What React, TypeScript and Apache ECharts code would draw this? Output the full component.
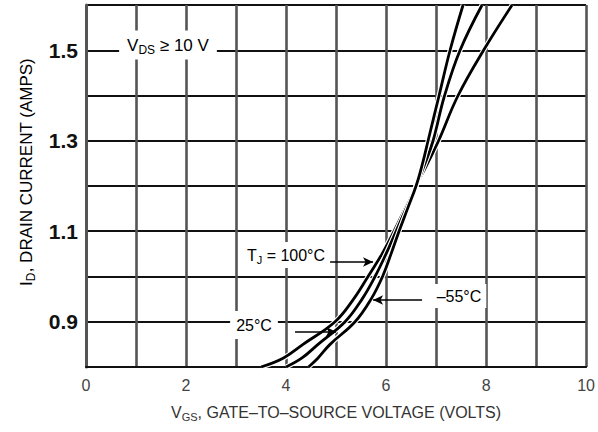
import React, { useEffect, useRef } from "react";
import * as echarts from "echarts";

// Drain current levels (AMPS) shared by the three curves
const idLevels = [0.8, 0.82, 0.85, 0.9, 0.95, 1.0, 1.05, 1.1, 1.15, 1.2, 1.25, 1.3, 1.4, 1.5, 1.6];
// Gate-to-source voltage (VOLTS) for each junction temperature at those levels
const vgs100C = [3.5, 3.95, 4.34, 4.98, 5.35, 5.64, 5.92, 6.16, 6.38, 6.6, 6.83, 7.05, 7.44, 7.95, 8.52];
const vgs25C = [4.0, 4.32, 4.64, 5.18, 5.52, 5.78, 6.0, 6.2, 6.4, 6.6, 6.78, 6.94, 7.17, 7.48, 7.92];
const vgsM55C = [4.45, 4.64, 4.88, 5.38, 5.7, 5.93, 6.1, 6.26, 6.43, 6.6, 6.73, 6.84, 7.06, 7.28, 7.54];

const xTickLabels = [0, 2, 4, 6, 8, 10];
const yTickLabels = [0.9, 1.1, 1.3, 1.5];

// Arrow annotations (data coordinates): [fromX, fromY, toX, toY]
const arrow100 = [4.84, 1.032, 5.74, 1.032];
const arrow25 = [4.18, 0.878, 5.0, 0.878];
const arrowM55 = [6.72, 0.948, 5.74, 0.948];

const FONT = "'Liberation Sans', Arial, sans-serif";

const richMain = (size: number, color: string) => ({
  b: { fontSize: size, fontFamily: FONT, color, lineHeight: size + 4, verticalAlign: "middle" },
  s: { fontSize: Math.round(size * 0.7), fontFamily: FONT, color, lineHeight: Math.round(size * 0.7), verticalAlign: "bottom" },
});

export default function App() {
  const ref = useRef<HTMLDivElement>(null);

  useEffect(() => {
    if (!ref.current) return;
    const chart = echarts.init(ref.current, undefined, { renderer: "svg" });

    const curves = [vgs100C, vgs25C, vgsM55C];
    const series: any[] = [];
    curves.forEach((xs) => {
      const data = idLevels.map((y, i) => [xs[i], y]);
      series.push({
        type: "line",
        data,
        showSymbol: false,
        smooth: 0.4,
        silent: true,
        lineStyle: { color: "#ffffff", width: 5 },
      });
      series.push({
        type: "line",
        data,
        showSymbol: false,
        smooth: 0.4,
        silent: true,
        lineStyle: { color: "#000000", width: 2.8 },
      });
    });
    const arrows = [arrow100, arrow25, arrowM55];
    series.push({
      type: "line",
      data: [],
      silent: true,
      markLine: {
        silent: true,
        symbol: ["none", "arrow"],
        symbolSize: [7, 10],
        label: { show: false },
        lineStyle: { color: "#000", width: 1.6, type: "solid" },
        data: arrows.map((a) => [{ coord: [a[0], a[1]] }, { coord: [a[2], a[3]] }]),
      },
    });

    chart.setOption({
      animation: false,
      backgroundColor: "#ffffff",
      grid: { left: 86, top: 5, right: 11, bottom: 65, containLabel: false },
      xAxis: {
        type: "value",
        min: 0,
        max: 10,
        interval: 1,
        name: "{b|V}{s|GS}{b|, GATE–TO–SOURCE VOLTAGE (VOLTS)}",
        nameLocation: "middle",
        nameGap: 35,
        nameTextStyle: { rich: richMain(16, "#333") },
        axisLine: { show: true, lineStyle: { color: "#111", width: 2 } },
        axisTick: { show: false },
        axisLabel: {
          fontFamily: FONT,
          fontSize: 16,
          color: "#444",
          margin: 10,
          formatter: (v: number) => (xTickLabels.some((t) => Math.abs(t - v) < 1e-6) ? String(v) : ""),
        },
        splitLine: { show: true, lineStyle: { color: "#555", width: 2.6 } },
      },
      yAxis: {
        type: "value",
        min: 0.8,
        max: 1.6,
        interval: 0.1,
        axisLine: { show: true, lineStyle: { color: "#555", width: 3 } },
        axisTick: { show: false },
        axisLabel: {
          fontFamily: FONT,
          fontSize: 21,
          fontWeight: "bold",
          color: "#111",
          margin: 8,
          formatter: (v: number) =>
            yTickLabels.some((t) => Math.abs(t - v) < 1e-6) ? v.toFixed(1) : "",
        },
        splitLine: { show: true, lineStyle: { color: "#111", width: 2 } },
      },
      series,
      graphic: [
        {
          type: "text",
          z: 100,
          x: 26,
          y: 172,
          rotation: Math.PI / 2,
          style: {
            x: 0,
            y: 0,
            align: "center",
            verticalAlign: "middle",
            text: "{b|I}{s|D}{b|, DRAIN CURRENT (AMPS)}",
            rich: richMain(17, "#444"),
          },
        },
        {
          type: "text",
          z: 100,
          style: {
            x: 168,
            y: 45,
            align: "center",
            verticalAlign: "middle",
            text: "{b|V}{s|DS}{b| ≥ 10 V}",
            rich: richMain(17, "#444"),
            backgroundColor: "#ffffff",
            padding: [4, 8, 4, 8],
          },
        },
        {
          type: "text",
          z: 100,
          style: {
            x: 286,
            y: 255,
            align: "center",
            verticalAlign: "middle",
            text: "{b|T}{s|J}{b| = 100°C}",
            rich: richMain(16, "#333"),
            backgroundColor: "#ffffff",
            padding: [3, 5, 3, 5],
          },
        },
        {
          type: "text",
          z: 100,
          style: {
            x: 254,
            y: 325,
            align: "center",
            verticalAlign: "middle",
            text: "{b|25°C}",
            rich: richMain(16, "#333"),
            backgroundColor: "#ffffff",
            padding: [4, 6, 4, 6],
          },
        },
        {
          type: "text",
          z: 100,
          style: {
            x: 459,
            y: 296,
            align: "center",
            verticalAlign: "middle",
            text: "{b|–55°C}",
            rich: richMain(16, "#333"),
            backgroundColor: "#ffffff",
            padding: [2, 5, 2, 5],
          },
        },
      ],
    });

    return () => chart.dispose();
  }, []);

  return (
    <div
      ref={ref}
      style={{ position: "fixed", left: 0, top: 0, width: 598, height: 432 }}
    />
  );
}
